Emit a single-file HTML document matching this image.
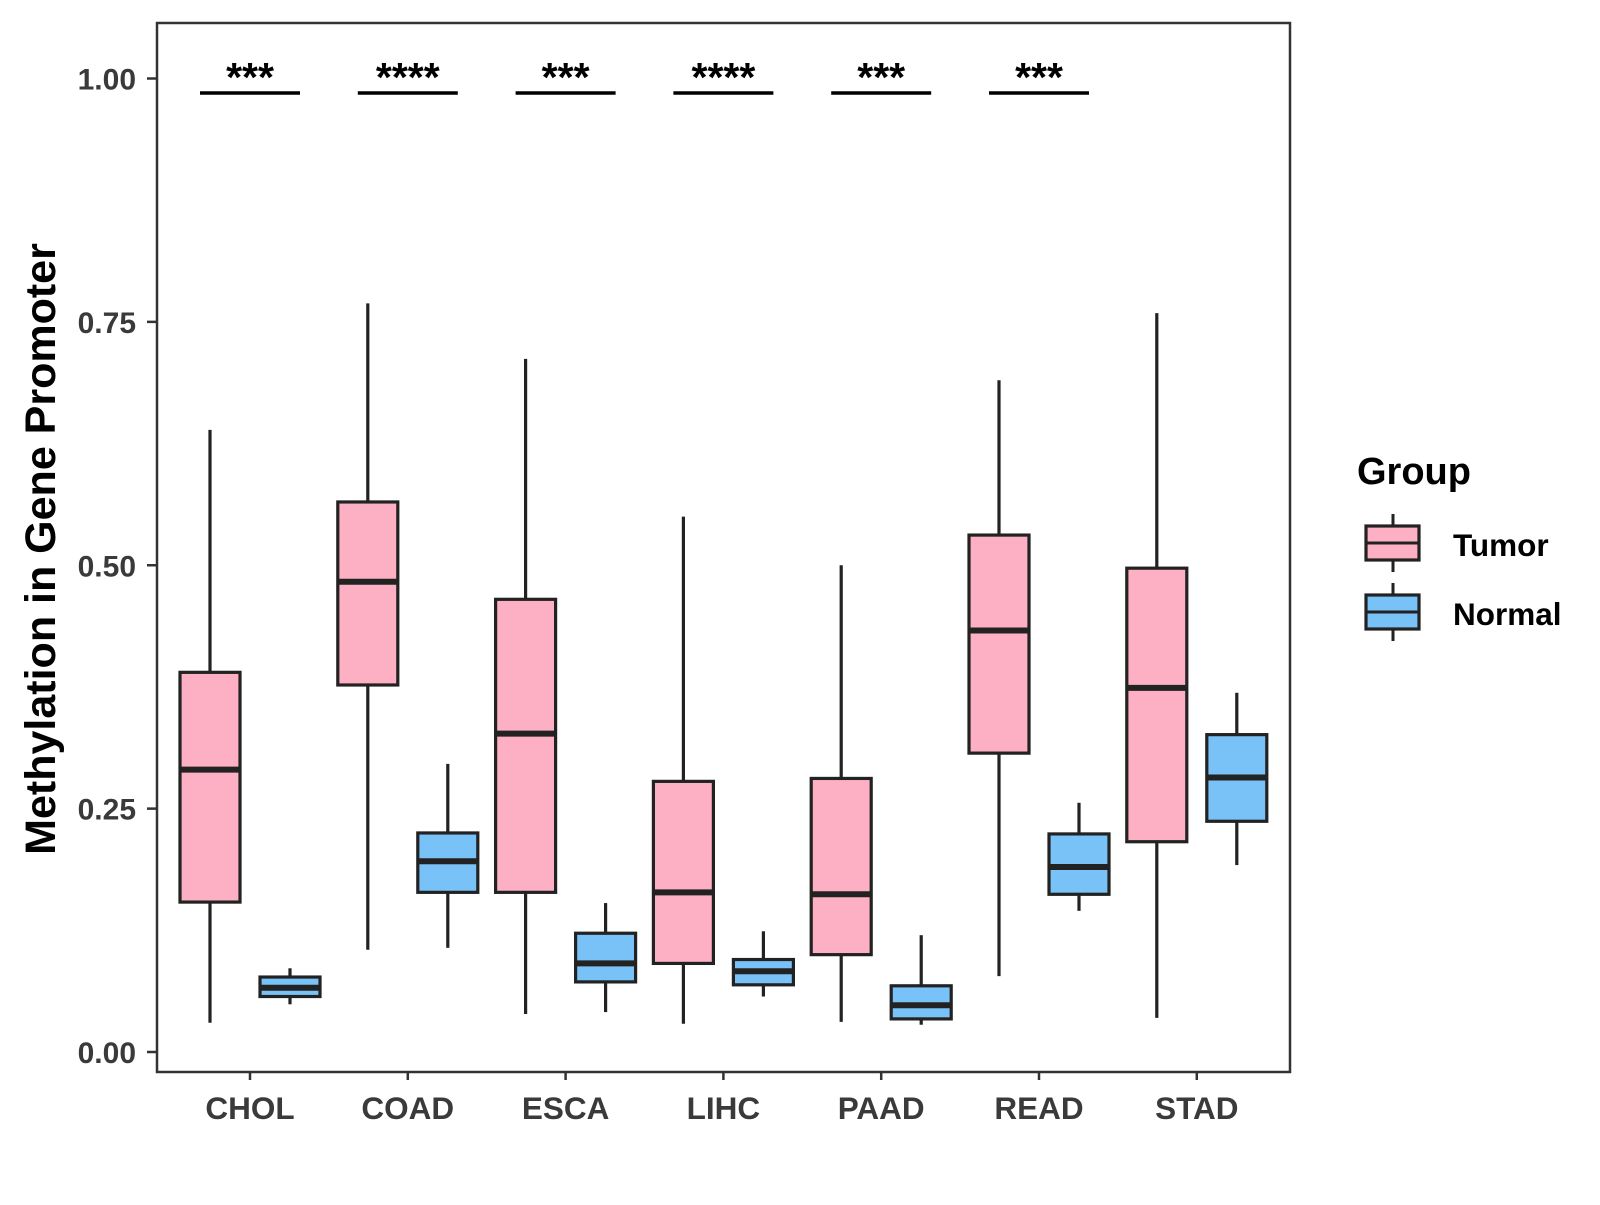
<!DOCTYPE html>
<html><head><meta charset="utf-8"><style>
html,body{margin:0;padding:0;background:#fff;}
svg text{font-family:"Liberation Sans",Arial,sans-serif;font-weight:bold;}
</style></head><body>
<svg id="chart" width="1600" height="1200" xmlns="http://www.w3.org/2000/svg">
<rect x="0" y="0" width="1600" height="1200" fill="#fff"/>
<g id="plot"></g>
</svg>
<script>
const categories=["CHOL","COAD","ESCA","LIHC","PAAD","READ","STAD"];
const tumorStats=[[0.03,0.154,0.29,0.39,0.639],[0.105,0.377,0.483,0.565,0.769],[0.039,0.164,0.327,0.465,0.712],[0.029,0.091,0.164,0.278,0.55],[0.031,0.1,0.162,0.281,0.5],[0.078,0.307,0.433,0.531,0.69],[0.035,0.216,0.374,0.497,0.759]];
const normalStats=[[0.049,0.057,0.066,0.077,0.086],[0.107,0.164,0.196,0.225,0.296],[0.041,0.072,0.091,0.122,0.153],[0.057,0.069,0.083,0.095,0.124],[0.028,0.034,0.048,0.068,0.12],[0.145,0.162,0.19,0.224,0.256],[0.192,0.237,0.282,0.326,0.369]];
const sigLabels=["***","****","***","****","***","***"];
const yTicks=[0,0.25,0.5,0.75,1];
const yTickLabels=["0.00","0.25","0.50","0.75","1.00"];

const NS="http://www.w3.org/2000/svg";
const g=document.getElementById('plot');
const L=157,R=1290,T=23,B=1072;
function y(v){return 1052-v*973.5;}
function x(i){return 250+i*157.8;}
function el(tag,attrs,parent){const e=document.createElementNS(NS,tag);for(const k in attrs)e.setAttribute(k,attrs[k]);(parent||g).appendChild(e);return e;}

yTicks.forEach((v,i)=>{
  const t=el('line',{x1:L-10,x2:L,y1:y(v),y2:y(v),stroke:'#333','stroke-width':2.5});
  
  
  const lb=el('text',{x:L-21,y:y(v)+11,'text-anchor':'end','font-size':30,fill:'#3a3a3a'});
  lb.textContent=yTickLabels[i];
  
  
});
categories.forEach((c,i)=>{
  const t=el('line',{x1:x(i),x2:x(i),y1:B,y2:B+8,stroke:'#333','stroke-width':2.5});
  
  
  const lb=el('text',{x:x(i),y:1119,'text-anchor':'middle','font-size':31.5,fill:'#3a3a3a'});
  lb.textContent=c;
  
  
});
function box(cx,s,fill,name){
  const grp=el('g',{});
  
  
  const w=30;
  el('line',{x1:cx,x2:cx,y1:y(s[4]),y2:y(s[3]),stroke:'#222','stroke-width':3.2},grp);
  el('line',{x1:cx,x2:cx,y1:y(s[1]),y2:y(s[0]),stroke:'#222','stroke-width':3.2},grp);
  el('rect',{x:cx-w,y:y(s[3]),width:2*w,height:y(s[1])-y(s[3]),fill:fill,stroke:'#222','stroke-width':3.2},grp);
  el('line',{x1:cx-w,x2:cx+w,y1:y(s[2]),y2:y(s[2]),stroke:'#222','stroke-width':6},grp);
}
categories.forEach((c,i)=>{
  box(x(i)-40,tumorStats[i],'#FDB0C3','box-tumor-'+c.toLowerCase());
  box(x(i)+40,normalStats[i],'#79C2F7','box-normal-'+c.toLowerCase());
});
sigLabels.forEach((s,i)=>{
  const ln=el('line',{x1:x(i)-50,x2:x(i)+50,y1:93,y2:93,stroke:'#000','stroke-width':3.5});
  
  
  const t=el('text',{x:x(i),y:91,'text-anchor':'middle','font-size':41,fill:'#000'});
  t.textContent=s;
  
  
});
const frame=el('rect',{x:L,y:T,width:R-L,height:B-T,fill:'none',stroke:'#333','stroke-width':2.5});


const yt=el('text',{x:0,y:0,'text-anchor':'middle','font-size':43,fill:'#000',transform:'translate(55,549) rotate(-90)'});
yt.textContent='Methylation in Gene Promoter';


const lg=el('g',{});


const lt=el('text',{x:1357,y:484,'font-size':38,fill:'#000'},lg);
lt.textContent='Group';
[['Tumor','#FDB0C3',526],['Normal','#79C2F7',595]].forEach(([n,f,ty])=>{
  const e=el('g',{},lg);
  
  
  el('line',{x1:1393,x2:1393,y1:ty-12,y2:ty+46,stroke:'#222','stroke-width':3},e);
  el('rect',{x:1366,y:ty,width:53,height:34,fill:f,stroke:'#222','stroke-width':3.2},e);
  el('line',{x1:1366,x2:1419,y1:ty+17,y2:ty+17,stroke:'#222','stroke-width':3},e);
  const t=el('text',{x:1453,y:ty+30,'font-size':31.5,fill:'#000'},e);
  t.textContent=n;
});
</script>
</body></html>
